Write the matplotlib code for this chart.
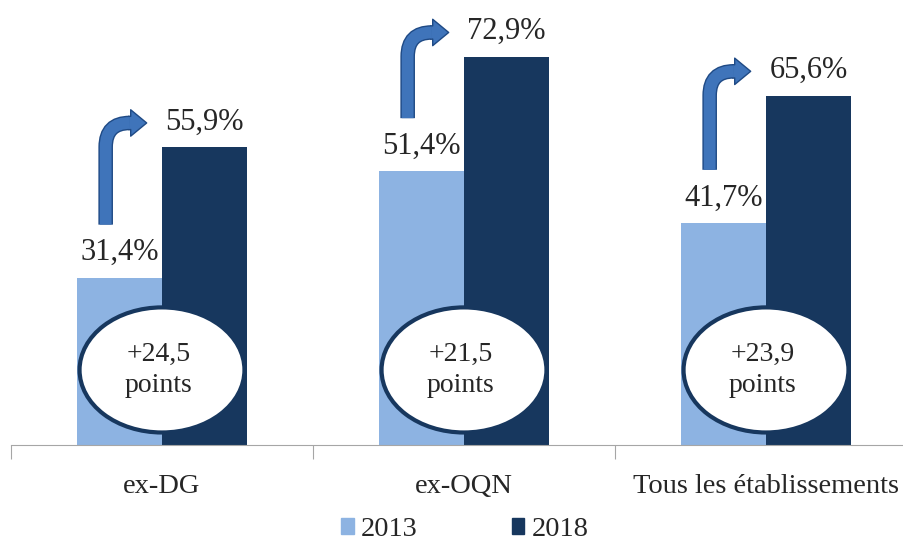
import matplotlib.pyplot as plt
import numpy as np
from matplotlib.patches import Ellipse, FancyArrowPatch, Patch, PathPatch
from matplotlib.path import Path

categories = ['ex-DG', 'ex-OQN', 'Tous les établissements']
v2013 = [31.4, 51.4, 41.7]
v2018 = [55.9, 72.9, 65.6]
gains = ['+24,5', '+21,5', '+23,9']
years = ['2013', '2018']

light = '#8db3e2'
dark = '#17375e'
txt = '#262626'
arrow_face = '#3f74ba'
arrow_edge = '#1f4a85'

plt.rcParams['font.family'] = ['Liberation Serif', 'DejaVu Serif']

fig = plt.figure(figsize=(9.04, 5.45), dpi=100)
ax = fig.add_axes([11 / 904, 100 / 545, 906 / 904, 445 / 545])

x = np.arange(len(categories))
w = 0.283
ax.bar(x - w / 2, v2013, w, color=light)
ax.bar(x + w / 2, v2018, w, color=dark)
ax.set_xlim(-0.5, 2.5)
ax.set_ylim(0, 83.6)

def fmt(v):
    return f"{v:.1f}".replace('.', ',') + '%'

# bend radius in data units (about 24 px each way)
rx = 24 / 302
ry = 24 / 5.32

for i in range(len(categories)):
    ax.text(x[i] - w / 2, v2013[i] + 2.0, fmt(v2013[i]), ha='center', va='bottom',
            fontsize=22, color=txt)
    ax.text(x[i] + w / 2, v2018[i] + 2.0, fmt(v2018[i]), ha='center', va='bottom',
            fontsize=22, color=txt)
    # ellipse with gain
    e = Ellipse((x[i], 14.1), 0.546, 23.5, facecolor='white', edgecolor=dark,
                linewidth=3, zorder=3)
    ax.add_patch(e)
    ax.text(x[i] - 0.01, 14.1, gains[i] + '\npoints', ha='center', va='center',
            fontsize=20, color=txt, zorder=4, linespacing=1.3)
    # bent arrow: vertical shaft, rounded corner, arrow head to the right
    xa = x[i] - w / 2 - 0.045
    y0 = v2013[i] + 10
    yb = v2018[i] + 4.6
    xt = xa + 41 / 302
    path = Path([(xa, y0), (xa, yb - ry), (xa, yb), (xa + rx, yb)],
                [Path.MOVETO, Path.LINETO, Path.CURVE3, Path.CURVE3])
    ax.add_patch(PathPatch(path, fill=False, edgecolor=arrow_edge, lw=10.5,
                           capstyle='butt', zorder=5))
    arr = FancyArrowPatch((xa + rx - 0.004, yb), (xt, yb),
                          arrowstyle="simple,tail_width=0.95,head_width=1.9,head_length=1.15",
                          mutation_scale=10, facecolor=arrow_face, edgecolor=arrow_edge,
                          linewidth=1, zorder=6, shrinkA=0, shrinkB=0)
    ax.add_patch(arr)
    ax.add_patch(PathPatch(path, fill=False, edgecolor=arrow_face, lw=8.5,
                           capstyle='butt', zorder=7))

for s in ['top', 'right', 'left']:
    ax.spines[s].set_visible(False)
ax.spines['bottom'].set_color('#a6a6a6')
ax.set_yticks([])
ax.set_xticks([-0.5, 0.5, 1.5, 2.5])
ax.set_xticklabels([])
ax.tick_params(axis='x', length=10, color='#a6a6a6')
ax.set_xticks(x, minor=True)
ax.set_xticklabels(categories, minor=True, fontsize=20.5, color=txt)
ax.tick_params(axis='x', which='minor', length=0, pad=21)

handles = [Patch(color=light), Patch(color=dark)]
fig.legend(handles, years, loc='lower center', bbox_to_anchor=(0.514, -0.042), ncol=2,
           frameon=False, fontsize=20.5, handlelength=0.45, handleheight=0.45,
           handletextpad=0.25, columnspacing=3.3, labelcolor=txt)

fig.savefig('out.png', dpi=100)
